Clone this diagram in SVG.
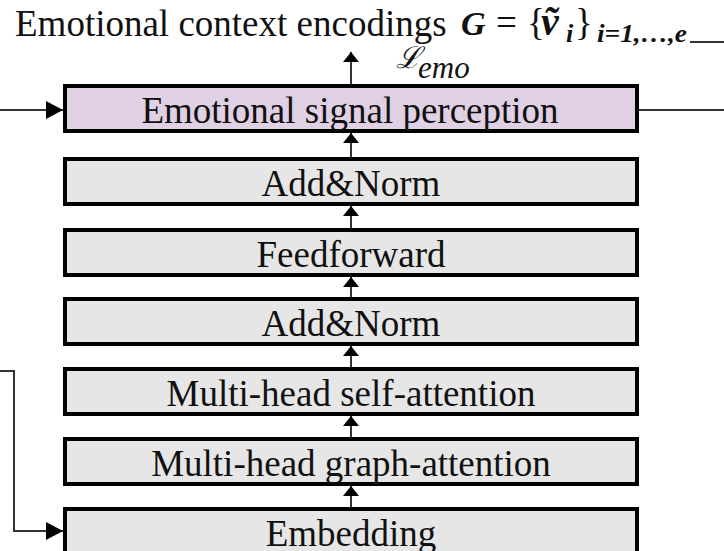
<svg xmlns="http://www.w3.org/2000/svg" width="724" height="551" viewBox="0 0 724 551">
<style>
.box{fill:#e6e6e6;stroke:#000;stroke-width:4}
.emo{fill:#e0d0e3}
.lbl{font-family:"Liberation Serif","Times New Roman",serif;font-size:37px;fill:#111;text-anchor:middle}
.t{font-family:"Liberation Serif","Times New Roman",serif;fill:#111}
.ln{stroke:#333;stroke-width:2;fill:none}
</style>
<defs>
<marker id="ah" viewBox="0 0 10 10" refX="10" refY="5" markerWidth="8" markerHeight="8" markerUnits="userSpaceOnUse" orient="auto">
<path d="M0,0 L10,5 L0,10 z" fill="#000"/>
</marker>
<marker id="ahs" viewBox="0 0 10 10" refX="10" refY="5" markerWidth="10" markerHeight="16" markerUnits="userSpaceOnUse" orient="auto" preserveAspectRatio="none">
<path d="M0,0 L10,5 L0,10 z" fill="#000"/>
</marker>
<marker id="ahl" viewBox="0 0 10 10" refX="10" refY="5" markerWidth="17" markerHeight="18" markerUnits="userSpaceOnUse" orient="auto" preserveAspectRatio="none">
<path d="M0,0 L10,5 L0,10 z" fill="#000"/>
</marker>
</defs>

<g id="title">
<text class="t" x="15" y="36" font-size="37">Emotional context encodings</text>
<text class="t" x="461" y="35" font-size="34" font-weight="bold" font-style="italic">G</text>
<text class="t" x="496" y="35" font-size="37">=</text>
<text class="t" x="527" y="35" font-size="37">{</text>
<text class="t" x="541" y="35" font-size="40" font-weight="bold" font-style="italic">ṽ</text>
<text class="t" x="566" y="42" font-size="26" font-weight="bold" font-style="italic">i</text>
<text class="t" x="575" y="35" font-size="37">}</text>
<text class="t" x="597" y="42" font-size="26" font-weight="bold" font-style="italic" textLength="90" lengthAdjust="spacingAndGlyphs">i=1,…,e</text>
</g>

<g id="loss">
<text x="396" y="68" font-family="'DejaVu Serif',serif" font-size="30" font-style="italic" fill="#111">ℒ</text>
<text class="t" x="418" y="78" font-size="31" font-style="italic">emo</text>
</g>

<g id="connectors">
<line class="ln" x1="351" y1="84" x2="351" y2="52" marker-end="url(#ahs)"/>
<line class="ln" x1="351" y1="157" x2="351" y2="133" marker-end="url(#ahs)"/>
<line class="ln" x1="351" y1="228" x2="351" y2="206" marker-end="url(#ahs)"/>
<line class="ln" x1="351" y1="297" x2="351" y2="277" marker-end="url(#ahs)"/>
<line class="ln" x1="351" y1="367" x2="351" y2="346" marker-end="url(#ahs)"/>
<line class="ln" x1="351" y1="437" x2="351" y2="416" marker-end="url(#ahs)"/>
<line class="ln" x1="351" y1="507" x2="351" y2="486" marker-end="url(#ahs)"/>
<line class="ln" x1="0" y1="110" x2="63" y2="110" marker-end="url(#ahl)"/>
<polyline class="ln" points="0,371 14,371 14,531 63,531" marker-end="url(#ahl)"/>
<line class="ln" x1="639" y1="110" x2="724" y2="110"/>
<line class="ln" x1="690" y1="42" x2="724" y2="42"/>
</g>

<g id="node-emotional-signal-perception">
<rect class="box emo" x="65" y="86" width="572" height="45"/>
<text class="lbl" x="350" y="123">Emotional signal perception</text>
</g>
<g id="node-addnorm-2">
<rect class="box" x="65" y="159" width="572" height="45"/>
<text class="lbl" x="351" y="196">Add&amp;Norm</text>
</g>
<g id="node-feedforward">
<rect class="box" x="65" y="230" width="572" height="45"/>
<text class="lbl" x="351" y="267">Feedforward</text>
</g>
<g id="node-addnorm-1">
<rect class="box" x="65" y="299" width="572" height="45"/>
<text class="lbl" x="351" y="336">Add&amp;Norm</text>
</g>
<g id="node-self-attention">
<rect class="box" x="65" y="369" width="572" height="45"/>
<text class="lbl" x="351" y="406">Multi-head self-attention</text>
</g>
<g id="node-graph-attention">
<rect class="box" x="65" y="439" width="572" height="45"/>
<text class="lbl" x="351" y="476">Multi-head graph-attention</text>
</g>
<g id="node-embedding">
<rect class="box" x="65" y="509" width="572" height="60"/>
<text class="lbl" x="351" y="546">Embedding</text>
</g>
</svg>
